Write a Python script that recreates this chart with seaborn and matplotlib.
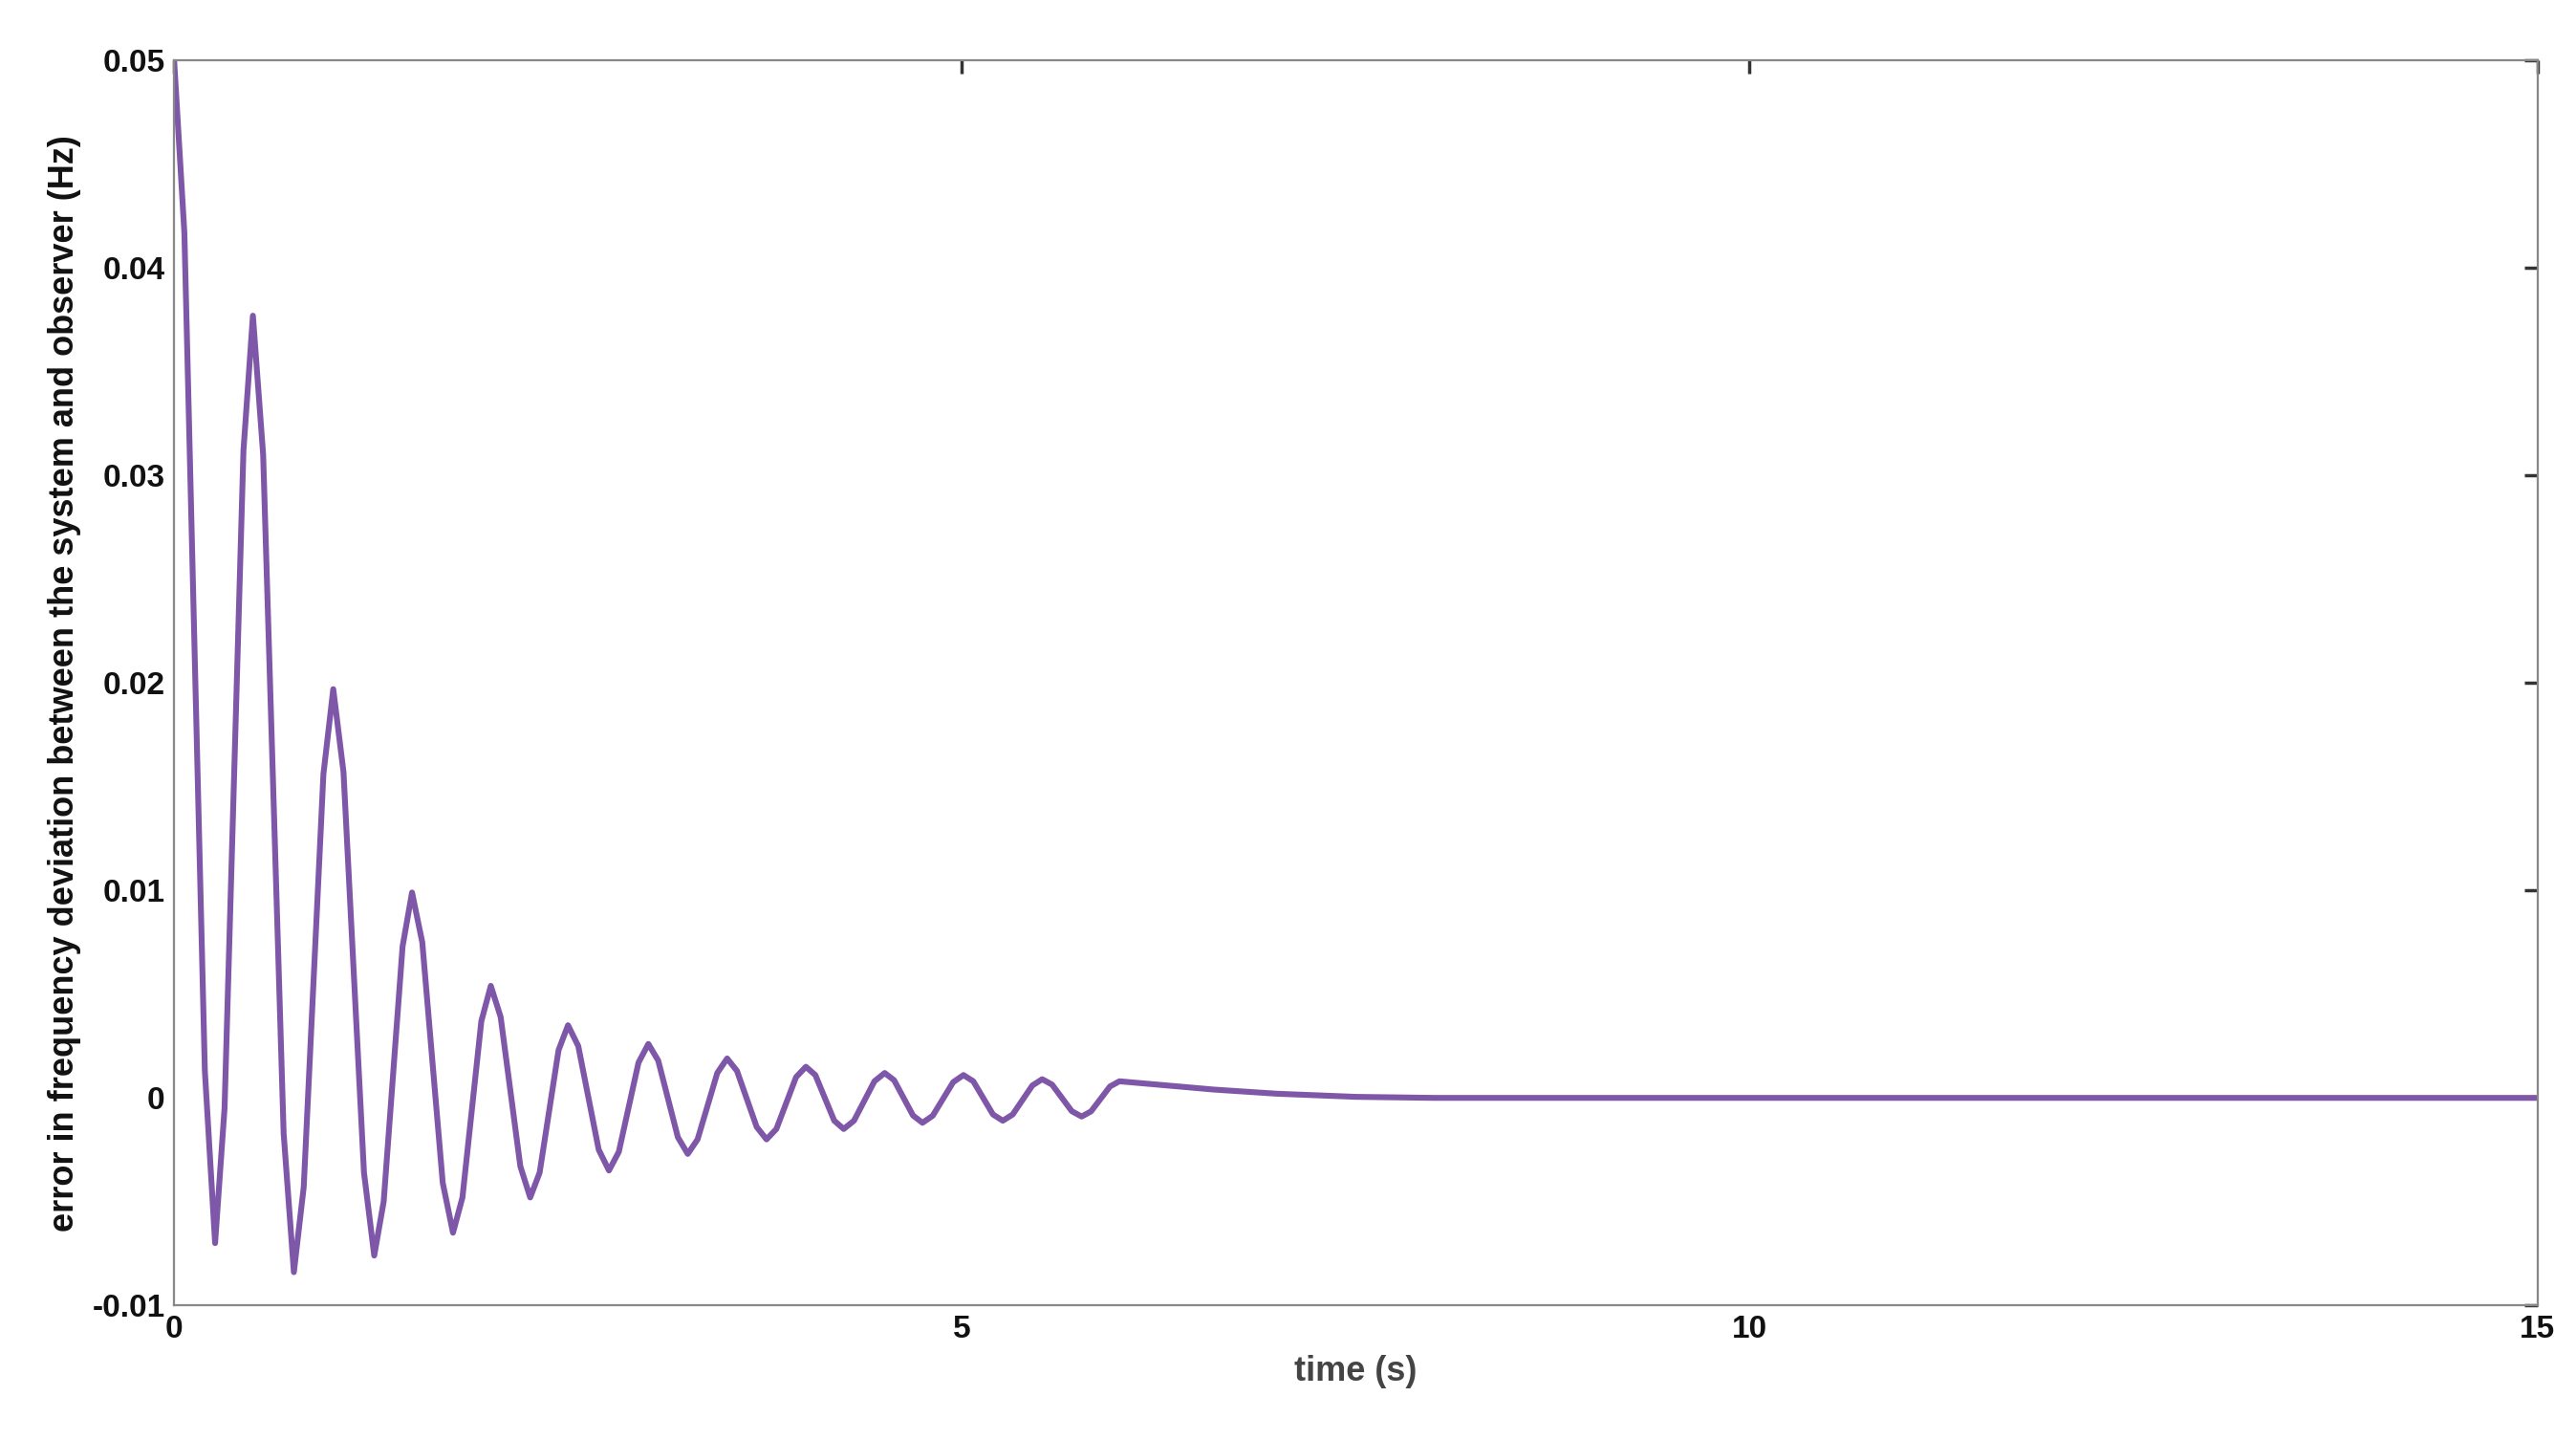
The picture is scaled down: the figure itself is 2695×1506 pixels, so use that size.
import matplotlib
matplotlib.use("Agg")
import matplotlib.pyplot as plt
import seaborn as sns
import pandas as pd

t = [0, 0.065, 0.13, 0.195, 0.26, 0.32, 0.38, 0.44, 0.50, 0.565, 0.63, 0.695, 0.76,
     0.8225, 0.885, 0.9475, 1.01, 1.075, 1.14, 1.205, 1.27, 1.33, 1.39, 1.45, 1.51,
     1.575, 1.64, 1.705, 1.77, 1.83, 1.89, 1.95, 2.01, 2.0725, 2.135, 2.1975, 2.26,
     2.32, 2.38, 2.44, 2.50, 2.565, 2.63, 2.695, 2.76, 2.8225, 2.885, 2.9475, 3.01,
     3.0725, 3.135, 3.1975, 3.26, 3.3225, 3.385, 3.4475, 3.51, 3.5725, 3.635, 3.6975, 3.76,
     3.8225, 3.885, 3.9475, 4.01, 4.07, 4.13, 4.19, 4.25, 4.315, 4.38, 4.445, 4.51,
     4.57, 4.63, 4.69, 4.75, 4.815, 4.88, 4.945, 5.01, 5.0725, 5.135, 5.1975, 5.26,
     5.3225, 5.385, 5.4475, 5.51, 5.5725, 5.635, 5.6975, 5.76, 5.82, 5.88, 5.94, 6.0,
     6.3, 6.6, 7.0, 7.5, 8.0, 15.0]
err = [0.05, 0.0417, 0.0215, 0.0013, -0.007, -0.0005, 0.01535, 0.0312, 0.0377, 0.0310, 0.01465, -0.0017, -0.0084,
       -0.0043, 0.00565, 0.0156, 0.0197, 0.0157, 0.00605, -0.0036, -0.0076, -0.0050, 0.00115, 0.0073, 0.0099,
       0.0075, 0.0017, -0.0041, -0.0065, -0.0048, -0.00055, 0.0037, 0.0054, 0.0039, 0.0003, -0.0033, -0.0048,
       -0.0036, -0.00065, 0.0023, 0.0035, 0.0025, 0.0, -0.0025, -0.0035, -0.0026, -0.00045, 0.0017, 0.0026,
       0.0018, -0.00005, -0.0019, -0.0027, -0.0020, -0.0004, 0.0012, 0.0019, 0.0013, -0.00005, -0.0014, -0.0020,
       -0.0015, -0.00025, 0.0010, 0.0015, 0.0011, 0.0, -0.0011, -0.0015, -0.0011, -0.00015, 0.0008, 0.0012,
       0.00085, 0.0, -0.00085, -0.0012, -0.00086, -0.00005, 0.00076, 0.0011, 0.0008, 0.0, -0.0008, -0.0011,
       -0.0008, -0.0001, 0.0006, 0.0009, 0.00064, 0.0, -0.00064, -0.0009, -0.00065, -0.00005, 0.00055, 0.0008,
       0.0006, 0.0004, 0.0002, 0.00005, 0.0, 0.0]

xticks = [0, 5, 10, 15]
yticks = [-0.01, 0, 0.01, 0.02, 0.03, 0.04, 0.05]
ylabels = ["-0.01", "0", "0.01", "0.02", "0.03", "0.04", "0.05"]

sns.set_theme(style="white")
plt.rcParams['font.family'] = ['Liberation Sans', 'DejaVu Sans']
plt.rcParams['font.weight'] = 'bold'

fig = plt.figure(figsize=(13.475, 7.53), dpi=200)
ax = fig.add_axes([0.0676, 0.0935, 0.9174, 0.8645])
df = pd.DataFrame({"t": t, "e": err})
sns.lineplot(data=df, x="t", y="e", ax=ax, color="#7E57A8", linewidth=2.2)
ax.set_xlim(0, 15)
ax.set_ylim(-0.01, 0.05)
ax.set_xticks(xticks)
ax.set_yticks(yticks)
ax.set_yticklabels(ylabels)
ax.tick_params(direction="in", length=5, color="#333333", labelsize=12, top=True, right=True,
               labelcolor="#111111")
for s in ax.spines.values():
    s.set_color("#888888")
    s.set_linewidth(0.8)
ax.set_xlabel("time (s)", fontsize=13, fontweight="bold", color="#444444")
ax.set_ylabel("error in frequency deviation between the system and observer (Hz)", fontsize=13,
              fontweight="bold", color="#111111")
fig.savefig("out.png", dpi=200)
